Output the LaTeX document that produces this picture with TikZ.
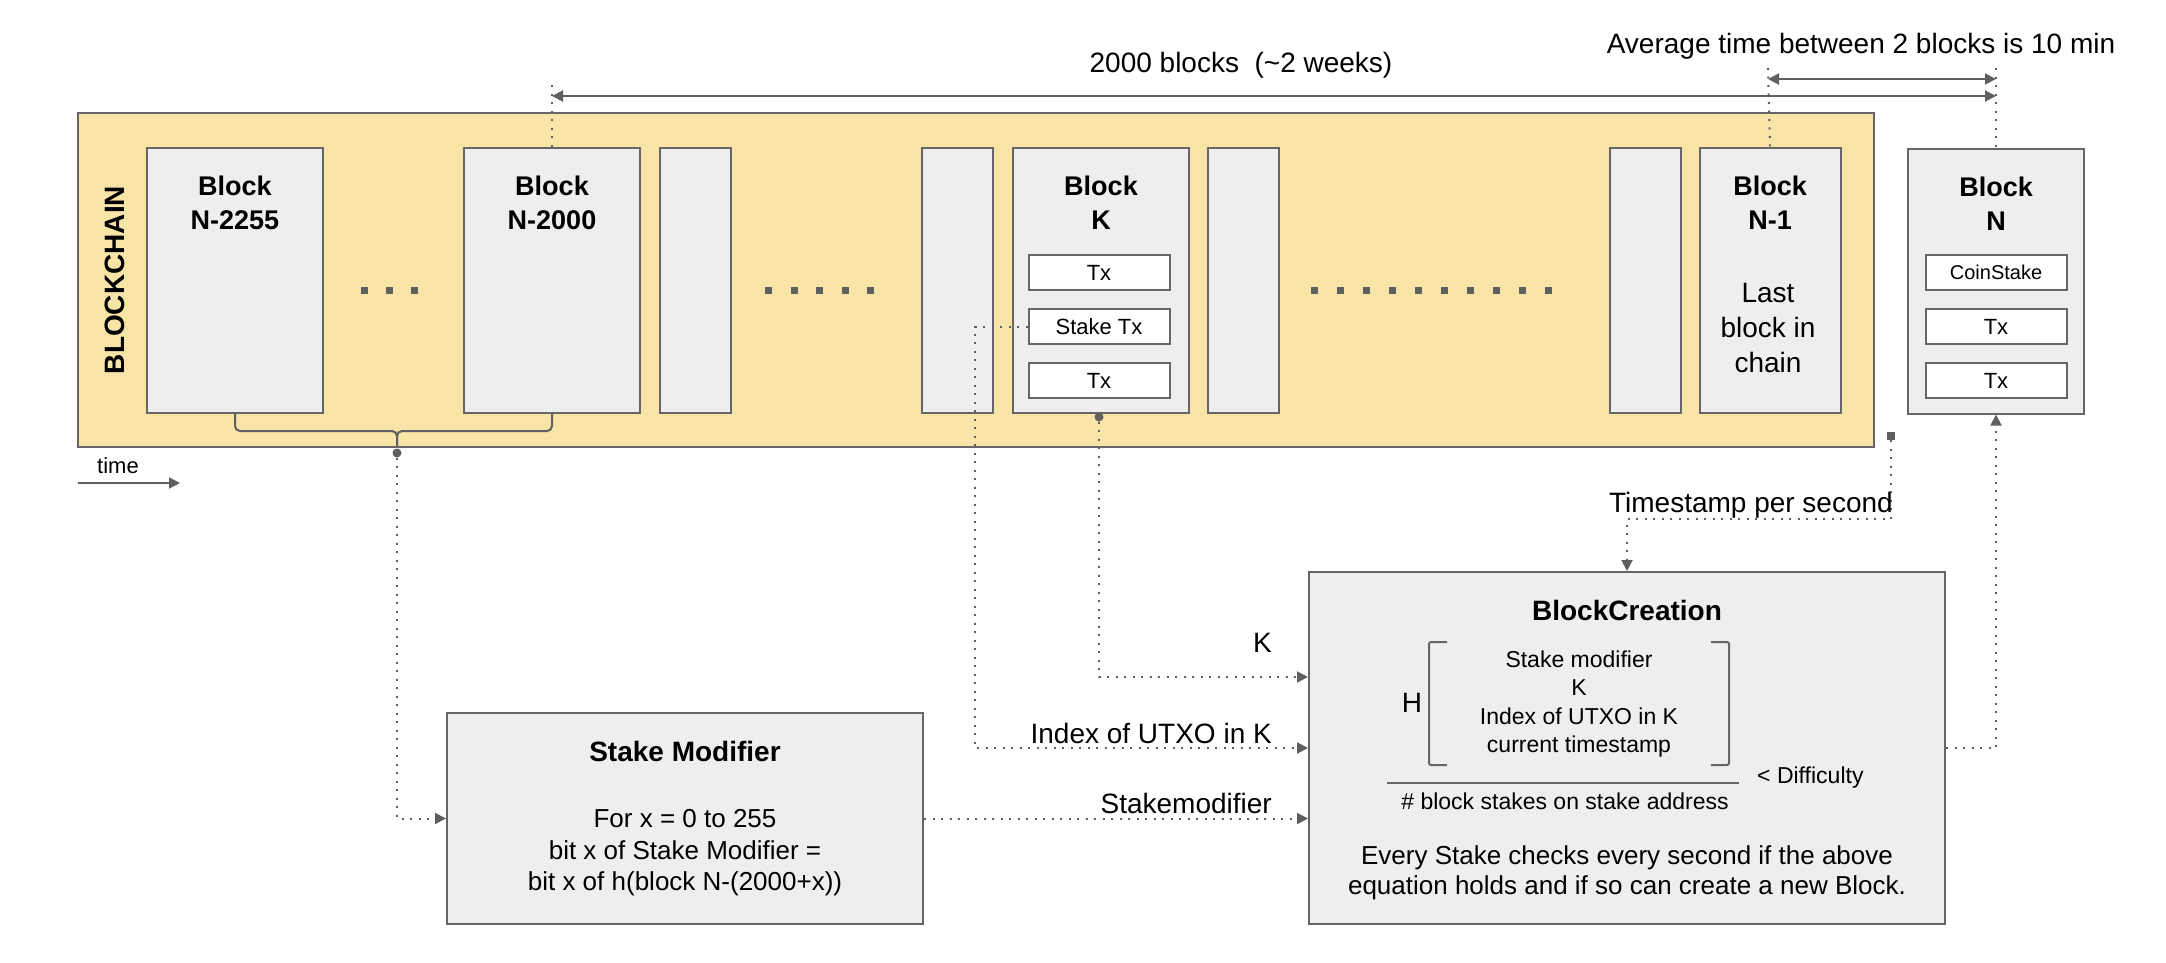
\documentclass[tikz,border=0pt]{standalone}
\usepackage{fontspec}
\setmainfont{Liberation Sans}
\usetikzlibrary{positioning, arrows, arrows.meta}
\definecolor{chainyellow}{HTML}{F8E4A7}
\definecolor{blockgray}{HTML}{EEEEEE}
\definecolor{edgegray}{HTML}{666666}
\definecolor{linkgray}{HTML}{5F5F5F}
\tikzstyle{chainbox} = [rectangle, draw=edgegray, line width=2pt, fill=chainyellow, minimum width=1796pt, minimum height=334pt]
\tikzstyle{block} = [rectangle, draw=edgegray, line width=2pt, fill=blockgray, minimum width=176pt, minimum height=265pt]
\tikzstyle{thinblock} = [block, minimum width=71pt]
\tikzstyle{txbox} = [rectangle, draw=edgegray, line width=2pt, fill=white, minimum width=141pt, minimum height=35pt, inner sep=0pt, font=\fontsize{22}{26}\selectfont]
\tikzstyle{panel} = [rectangle, draw=edgegray, line width=2pt, fill=blockgray]
\tikzstyle{blocktitle} = [align=center, inner sep=0pt, font=\bfseries\fontsize{27}{34}\selectfont]
\tikzstyle{heading} = [inner sep=0pt, font=\bfseries\fontsize{28}{34}\selectfont]
\tikzstyle{linktext} = [inner sep=0pt, font=\fontsize{28}{34}\selectfont]
\tikzstyle{bodytext} = [align=center, inner sep=0pt, font=\fontsize{26}{31.5}\selectfont]
\tikzstyle{formula} = [align=center, inner sep=0pt, font=\fontsize{23}{28.5}\selectfont]
\tikzstyle{link} = [draw=linkgray, line width=2pt, dash pattern=on 2pt off 6.5pt]
\tikzstyle{arrow} = [link, ->, >={Stealth[length=11pt, width=11pt, inset=0pt]}]
\tikzstyle{measure} = [draw=linkgray, line width=2pt, <->, >={Stealth[length=11pt, width=11pt, inset=0pt]}]
\tikzstyle{solidarrow} = [draw=linkgray, line width=2pt, ->, >={Stealth[length=11pt, width=11pt, inset=0pt]}]
\tikzstyle{gapdots} = [draw=linkgray, line width=7pt]
\tikzstyle{dotmark} = [circle, fill=linkgray, inner sep=0pt, minimum size=9pt]
\tikzstyle{squaremark} = [rectangle, fill=linkgray, inner sep=0pt, minimum size=8pt]
\tikzstyle{brace} = [draw=linkgray, line width=2pt, rounded corners=5pt]
\tikzstyle{bracket} = [draw=edgegray, line width=2pt, rounded corners=2pt]

\begin{document}
\begin{tikzpicture}[x=1pt, y=-1pt]
\useasboundingbox (0,0) rectangle (2166,962);

% the chain
\node (chain) [chainbox] at (976,280) {};
\node (chainname) [heading, rotate=90] at (115,280) {BLOCKCHAIN};
\node (b2255) [block] at (235,280.5) {};
\node (b2000) [block] at (552,280.5) {};
\node (thinA) [thinblock, right=18pt of b2000] {};
\node (thinB) [thinblock] at (957.5,280.5) {};
\node (bK) [block, right=18pt of thinB] {};
\node (thinC) [thinblock, right=17pt of bK] {};
\node (thinD) [thinblock] at (1645,280.5) {};
\node (bN1) [block, minimum width=141pt, right=17pt of thinD] {};
\node (bN) [block] at (1996,281) {};

\node (t2255) [blocktitle, below=29pt of b2255.north] {Block\\N-2255};
\node (t2000) [blocktitle, below=29pt of b2000.north] {Block\\N-2000};
\node (tK) [blocktitle, below=29pt of bK.north] {Block\\K};
\node (tN1) [blocktitle, below=29pt of bN1.north] {Block\\N-1};
\node (tN) [blocktitle, below=29pt of bN.north] {Block\\N};
\node (lastnote) [align=center, inner sep=0pt, font=\fontsize{28}{35}\selectfont] at (1768,328) {Last\\block in\\chain};

\node (txK1) [txbox] at (1099,272.5) {Tx};
\node (txK2) [txbox, below=17pt of txK1] {Stake Tx};
\node (txK3) [txbox, below=17pt of txK2] {Tx};
\node (txN1) [txbox, font=\fontsize{20}{24}\selectfont] at (1996,272.5) {CoinStake};
\node (txN2) [txbox, below=17pt of txN1] {Tx};
\node (txN3) [txbox, below=17pt of txN2] {Tx};

\draw [gapdots, dash pattern=on 7pt off 18pt] (361,290) -- (418,290);
\draw [gapdots, dash pattern=on 7pt off 18.5pt] (765,290) -- (874,290);
\draw [gapdots, dash pattern=on 7pt off 19pt] (1311,290) -- (1552,290);

% time and spans
\node (timetext) [linktext, font=\fontsize{22}{26}\selectfont] at (118,466) {time};
\coordinate (time0) at (78,483);
\coordinate (time1) at (180,483);
\draw [solidarrow] (time0) -- (time1);

\node (spanlabel) [linktext] at (1241,65) {2000 blocks\ \ (\textasciitilde2 weeks)};
\node (avglabel) [linktext] at (1861,46) {Average time between 2 blocks is 10 min};
\coordinate (guideA) at (552,85);
\coordinate (guideB) at (1768,68);
\coordinate (guideC) at (1996,68);
\coordinate (spanL) at (552,96);
\coordinate (spanR) at (1996,96);
\coordinate (gapL) at (1768,79);
\coordinate (gapR) at (1996,79);
\draw [link] (guideA) -- (b2000.north);
\draw [link] (guideB) -- (bN1.north);
\draw [link] (guideC) -- (bN.north);
\draw [measure] (spanL) -- (spanR);
\draw [measure] (gapL) -- (gapR);

% range of blocks
\coordinate (braceMid) at (397,431);
\coordinate (braceTip) at (397,447);
\draw [brace] (b2255.south) |- (braceMid) -- (braceTip);
\draw [brace] (b2000.south) |- (braceMid) -- (braceTip);
\node (rangedot) [dotmark] at (397,453) {};

% stake modifier
\node (sm) [panel, minimum width=476pt, minimum height=211pt] at (685,818.5) {};
\node (smtitle) [heading] at (685,751) {Stake Modifier};
\node (smbody) [bodytext] at (685,853) {For x = 0 to 255\\bit x of Stake Modifier =\\bit x of h(block N-(2000+x))};

% block creation
\node (bc) [panel, minimum width=636pt, minimum height=352pt] at (1627,748) {};
\node (bctitle) [heading] at (1627,610) {BlockCreation};
\node (hashH) [linktext] at (1412,703) {H};
\node (hashargs) [formula] at (1579,704) {Stake modifier\\K\\Index of UTXO in K\\current timestamp};
\draw [bracket] (1447,642) -- (1429,642) -- (1429,765) -- (1447,765);
\draw [bracket] (1711,642) -- (1729,642) -- (1729,765) -- (1711,765);
\draw [draw=edgegray, line width=2pt] (1387,783) -- (1739,783);
\node (denom) [formula] at (1565,801) {\# block stakes on stake address};
\node (difficulty) [formula, anchor=west] at (1757,778) {\textless{} Difficulty};
\node (bcnote) [bodytext, font=\fontsize{26}{30}\selectfont] at (1627,873) {Every Stake checks every second if the above\\equation holds and if so can create a new Block.};

% connectors
\node (kdot) [dotmark] at (1099,417) {};
\coordinate (kbend) at (1099,677);
\coordinate (idxbend) at (975,748);
\node (tsmark) [squaremark] at (1891,436) {};
\coordinate (tsbend) at (1891,519);
\draw [arrow] (rangedot) |- (sm.west);
\draw [arrow] (sm.east) -- (bc.west |- sm.east);
\draw [arrow] (txK2.west) -| (idxbend) -- (bc.west);
\draw [arrow] (kdot) -- (kbend) -- (bc.west |- kbend);
\draw [arrow] (tsmark) -- (tsbend) -| (bc.north);
\draw [arrow] (bc.east) -| (bN.south);

\node (klabel) [linktext, anchor=east] at (1272,643) {K};
\node (idxlabel) [linktext, anchor=east] at (1272,733) {Index of UTXO in K};
\node (smlabel) [linktext, anchor=east] at (1272,803) {Stakemodifier};
\node (tslabel) [linktext, anchor=base east] at (1893,512) {Timestamp per second};

\end{tikzpicture}
\end{document}
